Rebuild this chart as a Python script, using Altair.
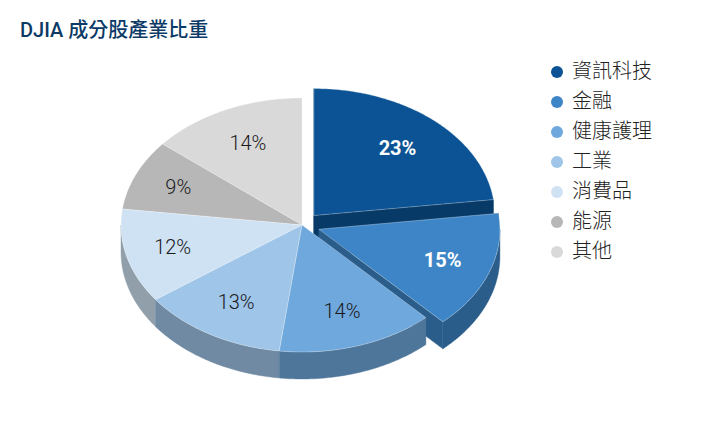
import math
import altair as alt
import pandas as pd

TITLE = "DJIA 成分股產業比重"
CATEGORIES = ["資訊科技", "金融", "健康護理", "工業", "消費品", "能源", "其他"]
VALUES = [23, 15, 14, 13, 12, 9, 14]
TOP_COLORS = ["#0b5394", "#3d85c6", "#6fa8dc", "#9fc5e8", "#cfe2f3", "#b7b7b7", "#d9d9d9"]
SIDE_COLORS = ["#083a68", "#2b5d8b", "#4e769a", "#6f8aa2", "#909faa", "#808080", "#989898"]
EXPLODED = [1, 1, 0, 0, 0, 0, 0]
LABEL_COLORS = ["#ffffff", "#ffffff", "#1a1a1a", "#1a1a1a", "#1a1a1a", "#1a1a1a", "#1a1a1a"]
LABEL_WEIGHTS = ["bold", "bold", "normal", "normal", "normal", "normal", "normal"]
DRAW_ORDER = [6, 5, 0, 1, 4, 3, 2]

W, H = 694, 405
CX, CY, RX, RY, DEPTH, EXPLODE, LABEL_R = 294.0, 217.0, 181.0, 127.0, 27.0, 18.0, 0.715
FONT = "Roboto, 'Noto Sans CJK TC', sans-serif"
# small per-label adjustments of the label placement
LABEL_NUDGE_X = [-2, 2, 0, 0, -4, -5, 1]
LABEL_NUDGE_Y = [1.5, 0.5, 0.5, -0.5, 0.5, -0.5, 1.5]

x_scale = alt.Scale(domain=[0, W], nice=False, zero=False)
y_scale = alt.Scale(domain=[H, 0], nice=False, zero=False)


def poly_layer(points, fill, stroke=None):
    df = pd.DataFrame({"x": [p[0] for p in points], "y": [p[1] for p in points],
                       "i": list(range(len(points)))})
    kw = {"fill": fill, "strokeWidth": 0.8, "interpolate": "linear-closed"}
    if stroke:
        kw.update(stroke=stroke, strokeOpacity=0.35)
    else:
        kw.update(stroke=fill, strokeWidth=0.4)
    return alt.Chart(df).mark_line(**kw).encode(
        x=alt.X("x:Q", scale=x_scale, axis=None),
        y=alt.Y("y:Q", scale=y_scale, axis=None),
        order=alt.Order("i:Q"),
    )


total = sum(VALUES)
starts = []
acc = 0
for v in VALUES:
    starts.append(acc / total * 2 * math.pi)
    acc += v

layers = []
labels = []
for k in range(len(VALUES)):
    a0 = starts[k]
    a1 = a0 + VALUES[k] / total * 2 * math.pi
    mid = (a0 + a1) / 2
    ox = CX + EXPLODED[k] * EXPLODE * math.sin(mid)
    oy = CY - EXPLODED[k] * EXPLODE * math.cos(mid) * RY / RX
    labels.append((ox + LABEL_R * RX * math.sin(mid) + LABEL_NUDGE_X[k],
                   oy - LABEL_R * RY * math.cos(mid) + LABEL_NUDGE_Y[k]))

for k in DRAW_ORDER:
    a0 = starts[k]
    a1 = a0 + VALUES[k] / total * 2 * math.pi
    mid = (a0 + a1) / 2
    ox = CX + EXPLODED[k] * EXPLODE * math.sin(mid)
    oy = CY - EXPLODED[k] * EXPLODE * math.cos(mid) * RY / RX

    def pt(a):
        return (ox + RX * math.sin(a), oy - RY * math.cos(a))

    n = max(2, int((a1 - a0) / 0.01))
    arc = [pt(a0 + (a1 - a0) * j / n) for j in range(n + 1)]

    # radial cut faces, only where they look toward the viewer
    if EXPLODED[k]:
        for a in (a0, a1):
            px, py = pt(a)
            layers.append(poly_layer([(ox, oy), (px, py), (px, py + DEPTH), (ox, oy + DEPTH)], SIDE_COLORS[k]))
    # outer rim, visible on the near half of the ellipse
    lo, hi = max(a0, math.pi / 2), min(a1, 3 * math.pi / 2)
    if hi > lo:
        m = max(2, int((hi - lo) / 0.01))
        rim = [pt(lo + (hi - lo) * j / m) for j in range(m + 1)]
        layers.append(poly_layer(rim + [(p[0], p[1] + DEPTH) for p in reversed(rim)], SIDE_COLORS[k]))
    # top face
    layers.append(poly_layer([(ox, oy)] + arc, TOP_COLORS[k], stroke="#ffffff"))

cat_df = pd.DataFrame({"category": CATEGORIES, "value": VALUES,
                       "label": [f"{v}%" for v in VALUES],
                       "x": [p[0] for p in labels], "y": [p[1] for p in labels],
                       "tc": LABEL_COLORS, "fw": LABEL_WEIGHTS})

legend_layer = alt.Chart(cat_df).mark_circle(opacity=0, size=144).encode(
    x=alt.X("x:Q", scale=x_scale, axis=None),
    y=alt.Y("y:Q", scale=y_scale, axis=None),
    color=alt.Color("category:N",
                    scale=alt.Scale(domain=CATEGORIES, range=TOP_COLORS),
                    legend=alt.Legend(title=None, orient="none", legendX=539, legendY=54,
                                      symbolType="circle", symbolSize=144, symbolOpacity=1,
                                      symbolStrokeWidth=0, labelFont=FONT, labelFontSize=20,
                                      labelFontWeight=300,
                                      labelColor="#222222", labelOffset=5, rowPadding=10,
                                      labelLimit=150)),
)

text_layers = []
for w, size, wt in (("bold", 20, 700), ("normal", 20, 300)):
    text_layers.append(
        alt.Chart(cat_df[cat_df.fw == w]).mark_text(
            font=FONT, fontSize=size, fontWeight=wt, align="center", baseline="middle"
        ).encode(
            x=alt.X("x:Q", scale=x_scale, axis=None),
            y=alt.Y("y:Q", scale=y_scale, axis=None),
            text="label:N",
            color=alt.Color("tc:N", scale=None, legend=None),
        )
    )

chart = alt.layer(*layers, legend_layer, *text_layers).properties(
    width=W, height=H, padding=0, autosize=alt.AutoSizeParams(type="none"),
    title=alt.TitleParams(TITLE, anchor="start", frame="group", dx=12, dy=37, font=FONT,
                          fontSize=20, fontWeight=500, color="#0b3a66"),
).configure_view(stroke=None)

chart.save("out.html", embed_options={"renderer": "svg", "actions": False})
